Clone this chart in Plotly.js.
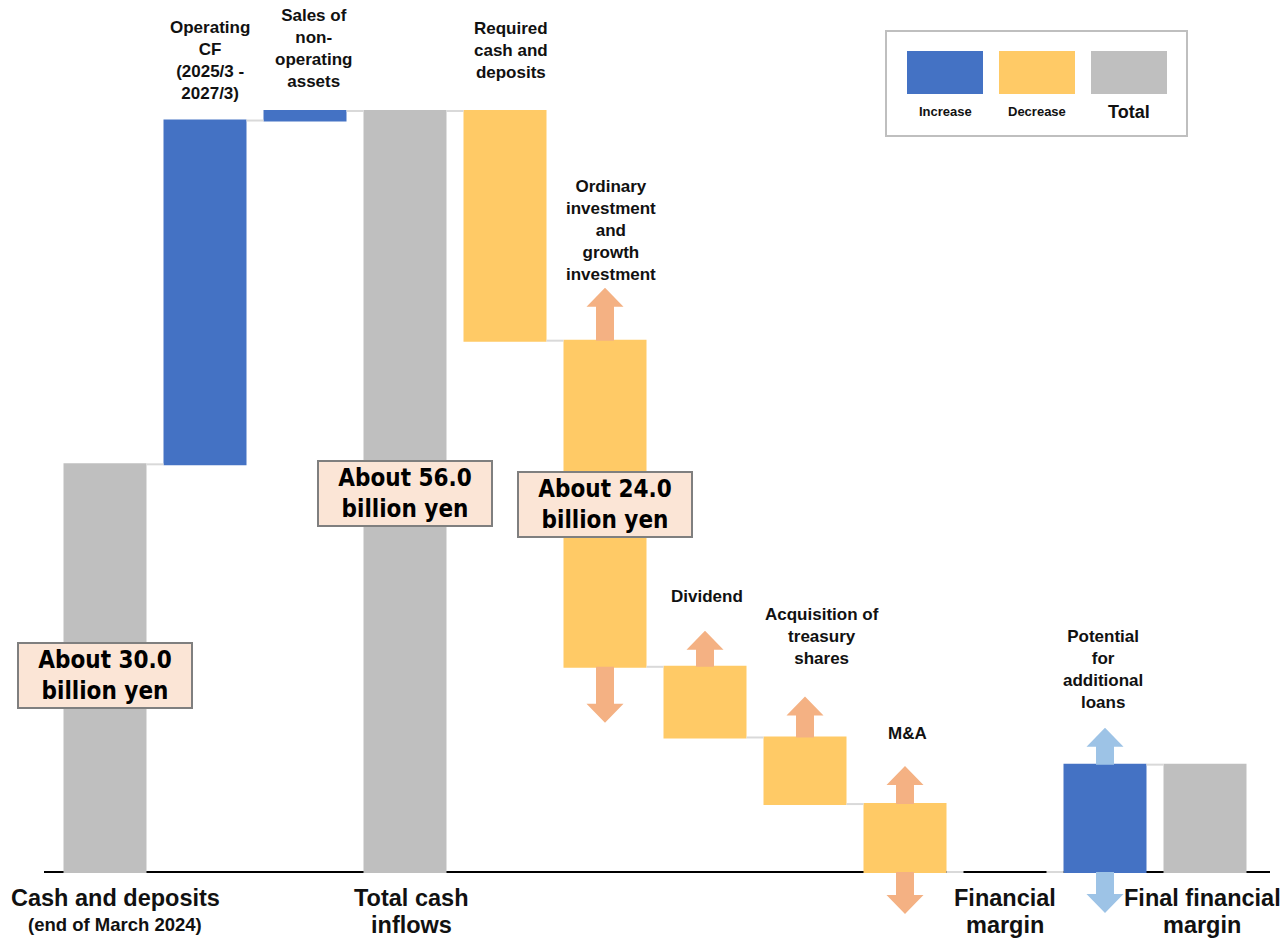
<!DOCTYPE html>
<html><head><meta charset="utf-8">
<script src="https://cdn.plot.ly/plotly-3.0.1.min.js"></script>
<style>html,body{margin:0;padding:0;background:#fff}#chart{width:1282px;height:940px}</style>
</head><body><div id="chart"></div>
<script>
// ---------- data ----------
const categories = ["Cash and deposits","Operating CF (2025/3 - 2027/3)","Sales of non-operating assets","Total cash inflows","Required cash and deposits","Ordinary investment and growth investment","Dividend","Acquisition of treasury shares","M&A","Financial margin","Potential for additional loans","Final financial margin"];
const measures = ["absolute","relative","relative","total","relative","relative","relative","relative","relative","total","relative","total"];
const values = [30.0, 25.3, 0.7, 0, -16.9, -24.0, -5.2, -4.9, -5.0, 0, 7.9, 0];
const topLabels = ["","Operating<br>CF<br>(2025/3 -<br>2027/3)","Sales of<br>non-<br>operating<br>assets","","Required<br>cash and<br>deposits","Ordinary<br>investment<br>and<br>growth<br>investment","Dividend","Acquisition of<br>treasury<br>shares","M&A","","Potential<br>for<br>additional<br>loans",""];
const bottomLabels = ["Cash and deposits","","","Total cash<br>inflows","","","","","","Financial<br>margin","","Final financial<br>margin"];
const bottomSubLabels = ["(end of March 2024)","","","","","","","","","","",""];
const amountIdx = [0, 3, 5];
const amountLabels = ["About 30.0<br>billion yen","About 56.0<br>billion yen","About 24.0<br>billion yen"];
const legendLabels = ["Increase","Decrease","Total"];
// arrows: category index, direction
const arrowIdx = [5, 5, 6, 7, 8, 8, 10, 10];
const arrowDir = ["up","down","up","up","up","down","up","down"];

// ---------- styles ----------
const C_INC = "#4472C4", C_DEC = "#FFCA66", C_TOT = "#BFBFBF";
const C_ARROW = "#F4B183", C_ARROW_B = "#9DC3E6";
const FONT = "Liberation Sans, Arial, sans-serif";
const NARROW = "Liberation Sans Narrow, Arial Narrow, DejaVu Sans Condensed, sans-serif";
const W = 1282, H = 940, ML = 44, MR = 12;
const yRange = [-5.004, 64.17];
const xRange = [-0.61, 11.65];
const pxPerUnit = H / (yRange[1] - yRange[0]);
const arrowLenPx = [53, 56, 36, 41, 38, 42, 37, 41];
const topShift = {1:[5,16],2:[8,18],4:[6,27],5:[6,2],6:[2,23],7:[17,26],8:[2,21],10:[-2,14]};
const bottomShift = {0:10,3:6,9:0,11:-3};
const boxShift = [-7, -2, -1];

// ---------- compute levels ----------
const starts = [], ends = [];
let run = 0;
for (let i = 0; i < values.length; i++) {
  let s, e;
  if (measures[i] === "absolute") { s = 0; e = values[i]; run = e; }
  else if (measures[i] === "total") { s = 0; e = run; }
  else { s = run; e = run + values[i]; run = e; }
  starts.push(s); ends.push(e);
}
const tops = starts.map((s, i) => Math.max(s, ends[i]));
const bots = starts.map((s, i) => Math.min(s, ends[i]));

const xs = categories.map((_, i) => i);
const trace = {
  type: "waterfall",
  x: xs, y: values, measure: measures,
  width: 0.83,
  increasing: {marker: {color: C_INC}},
  decreasing: {marker: {color: C_DEC}},
  totals: {marker: {color: C_TOT}},
  connector: {line: {color: "#D9D9D9", width: 2}, mode: "between"},
  textinfo: "none", hoverinfo: "skip", showlegend: false
};

const shapes = [];
const annotations = [];
const arrowTip = {};
const hw = 0.09, hh = 0.185, hl = 19 / pxPerUnit;
arrowIdx.forEach((i, k) => {
  const up = arrowDir[k] === "up";
  const base = up ? tops[i] : bots[i];
  const len = arrowLenPx[k] / pxPerUnit;
  const tip = up ? base + len : base - len;
  const neck = up ? tip - hl : tip + hl;
  if (up) arrowTip[i] = tip;
  const c = i;
  const path = `M ${c-hw},${base} L ${c-hw},${neck} L ${c-hh},${neck} L ${c},${tip} L ${c+hh},${neck} L ${c+hw},${neck} L ${c+hw},${base} Z`;
  shapes.push({type: "path", xref: "x", yref: "y", path: path,
    fillcolor: i === 10 ? C_ARROW_B : C_ARROW, line: {width: 0}});
});

// top labels
topLabels.forEach((t, i) => {
  if (!t) return;
  const ref = arrowTip[i] !== undefined ? arrowTip[i] : tops[i];
  annotations.push({x: i, y: ref, xref: "x", yref: "y", text: "<b>" + t + "</b>",
    showarrow: false, xanchor: "center", yanchor: "bottom",
    xshift: topShift[i][0], yshift: topShift[i][1],
    font: {family: FONT, size: 17, color: "#111"}});
});
// bottom labels (one annotation per line for tighter spacing)
bottomLabels.forEach((t, i) => {
  if (!t) return;
  const lines = t.split("<br>");
  lines.forEach((ln, j) => {
    annotations.push({x: i, y: 0, xref: "x", yref: "y", text: "<b>" + ln + "</b>",
      showarrow: false, xanchor: "center", yanchor: "middle",
      xshift: bottomShift[i], yshift: -26 - 27 * j,
      font: {family: FONT, size: 23.5, color: "#111"}});
  });
  if (bottomSubLabels[i]) {
    annotations.push({x: i, y: 0, xref: "x", yref: "y", text: "<b>" + bottomSubLabels[i] + "</b>",
      showarrow: false, xanchor: "center", yanchor: "middle",
      xshift: bottomShift[i], yshift: -52,
      font: {family: FONT, size: 18.5, color: "#111"}});
  }
});
// amount boxes
amountIdx.forEach((i, k) => {
  annotations.push({x: i, y: (tops[i] + bots[i]) / 2, xref: "x", yref: "y",
    text: "<b>" + amountLabels[k] + "</b>", showarrow: false,
    xanchor: "center", yanchor: "middle", yshift: boxShift[k], width: 168, height: 59,
    bgcolor: "#FBE5D6", bordercolor: "#7F7F7F", borderwidth: 2, borderpad: 2,
    font: {family: NARROW, size: 24, color: "#000"}});
});

// legend box (pixel layout converted to paper)
const px = v => (v - ML) / (W - ML - MR);
const py = v => 1 - v / H;
shapes.push({type: "rect", xref: "paper", yref: "paper", x0: px(886), x1: px(1187), y0: py(136), y1: py(31),
  line: {color: "#BFBFBF", width: 2}, fillcolor: "rgba(0,0,0,0)"});
const legColors = [C_INC, C_DEC, C_TOT];
legendLabels.forEach((lab, k) => {
  const x0 = 907 + k * 92;
  shapes.push({type: "rect", xref: "paper", yref: "paper", x0: px(x0), x1: px(x0 + 76), y0: py(94), y1: py(51),
    line: {width: 0}, fillcolor: legColors[k]});
  annotations.push({x: px(x0 + 38), y: py(112), xref: "paper", yref: "paper", text: "<b>" + lab + "</b>",
    showarrow: false, xanchor: "center", yanchor: "middle",
    font: {family: FONT, size: k === 2 ? 18 : 13, color: "#111"}});
});

const layout = {
  width: W, height: H,
  margin: {l: ML, r: MR, t: 0, b: 0, pad: 0},
  paper_bgcolor: "#fff", plot_bgcolor: "#fff",
  xaxis: {range: xRange, showgrid: false, zeroline: false, showticklabels: false, showline: false, ticks: ""},
  yaxis: {range: yRange, showgrid: false, zeroline: true, zerolinecolor: "#000", zerolinewidth: 1.5, showticklabels: false, ticks: ""},
  shapes: shapes, annotations: annotations, showlegend: false
};
Plotly.newPlot("chart", [trace], layout, {displayModeBar: false, staticPlot: true});
</script>
</body></html>
